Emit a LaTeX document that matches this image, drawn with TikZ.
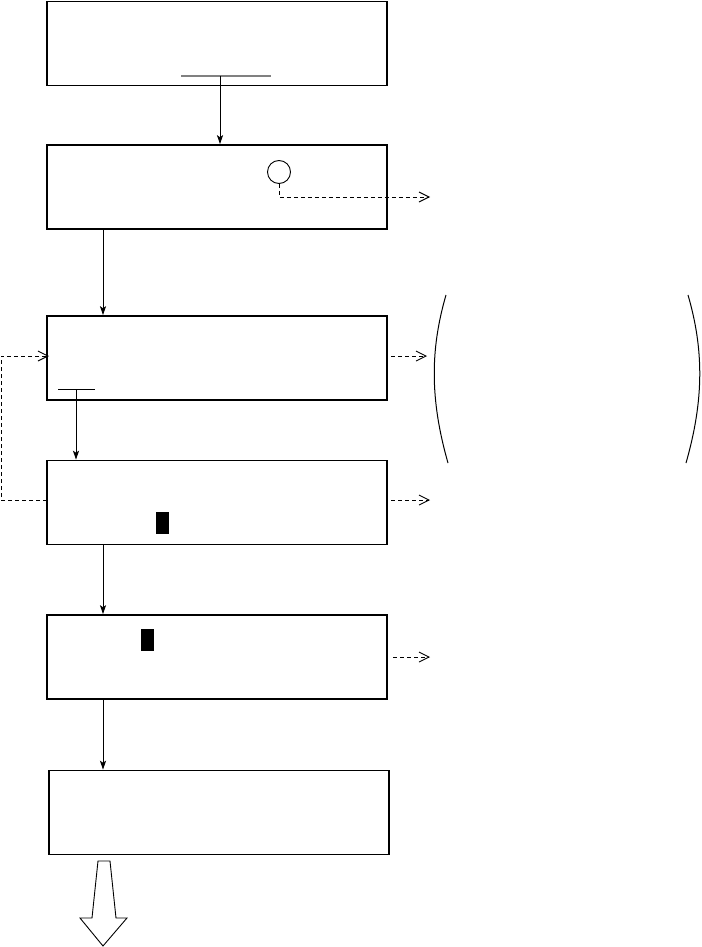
\documentclass[tikz,border=0pt]{standalone}
\usetikzlibrary{arrows.meta}
\begin{document}
\begin{tikzpicture}[x=1pt,y=-1pt,
  box/.style={draw, line width=1.6pt, minimum width=340pt, minimum height=84pt, inner sep=0pt},
  solarr/.style={line width=0.9pt, -{Stealth[length=9pt,width=6pt,inset=2pt]}},
  dasharr/.style={line width=0.9pt, dash pattern=on 4pt off 3pt, -{Straight Barb[length=10pt,width=10pt,line width=0.9pt]}},
  paren/.style={line width=1pt}]
\useasboundingbox (0,0) rectangle (701,947);
% boxes
\node[box] (b1) at (217,43.5) {};
\node[box] (b2) at (217,187) {};
\node[box] (b3) at (217,358) {};
\node[box] (b4) at (217,502.5) {};
\node[box] (b5) at (217,657) {};
\node[box] (b6) at (219,812.5) {};
% helper coordinates
\coordinate (x103) at (103,0);
\coordinate (g1) at (220,76);
\coordinate (t3) at (76,389);
\coordinate (fb) at (1,430);
\coordinate (e2) at (430,197);
\coordinate (e3) at (427,356);
\coordinate (e4) at (430,500);
\coordinate (e5) at (430,657);
% gray bar in box 1 and connector
\draw[gray, line width=1.3pt] (181,76) -- (271,76);
\draw[solarr] (g1) -- (g1 |- b2.north);
% circle in box 2 and dashed out
\node[circle, draw, line width=0.9pt, minimum size=23pt, inner sep=0pt] (c1) at (279,172) {};
\draw[dasharr] (c1.south) |- (e2);
% box 2 -> box 3
\draw[solarr] (b2.south -| x103) -- (b3.north -| x103);
% T bar in box 3 and connector to box 4
\draw[line width=0.9pt] (58,389) -- (95,389);
\draw[solarr] (t3) -- (t3 |- b4.north);
% dashed right arrows
\draw[dasharr] (391,356) -- (e3);
\draw[dasharr] (391,500) -- (e4);
\draw[dasharr] (393,657) -- (e5);
% feedback dashed loop box4 -> box3
\coordinate (b4w) at (47,500);
\coordinate (b3w) at (49,356);
\draw[dasharr] (b4w) -| (fb) |- (b3w);
% black marks
\fill (156,512) rectangle (169,534);
\fill (141,629) rectangle (154,651);
% box 4 -> box 5, box 5 -> box 6
\draw[solarr] (b4.south -| x103) -- (b5.north -| x103);
\draw[solarr] (b5.south -| x103) -- (b6.north -| x103);
% parentheses
\draw[paren] (446,295) .. controls (430,350) and (430,400) .. (448,463);
\draw[paren] (688,295) .. controls (704,350) and (704,400) .. (686,463);
% hollow output arrow
\draw[line width=0.9pt, fill=white] (98,861) -- (110,861) -- (116,918) -- (127,918) -- (103,946) -- (80,918) -- (92,918) -- cycle;
\end{tikzpicture}
\end{document}
